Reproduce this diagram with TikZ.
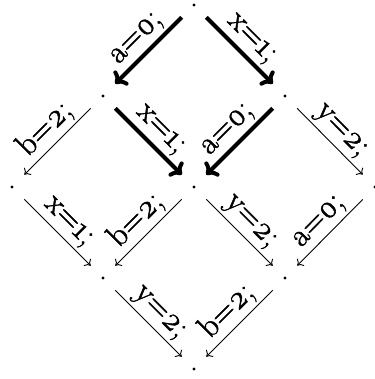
\documentclass[tikz,border=0pt]{standalone}
\usepackage{fontspec}
\usetikzlibrary{arrows.meta}
\newfontfamily\lblfont{Latin Modern Roman}[FakeBold=1.6, Numbers=OldStyle]
\newcommand{\lbl}[2]{#1=#2;}
\begin{document}
\begin{tikzpicture}[x=0.5pt, y=-0.5pt,
  state/.style={circle, minimum size=17pt, inner sep=0pt,
    path picture={\fill (path picture bounding box.center) circle (0.8pt);}},
  strong/.style={line width=2pt, -{Computer Modern Rightarrow[length=5pt, width=10pt]}},
  weak/.style={line width=0.45pt, -{Computer Modern Rightarrow[length=2.6pt, width=5pt]}},
  tag/.style={midway, sloped, above=0.5pt, font=\lblfont\fontsize{16}{18}\selectfont, inner sep=1pt}]
  \useasboundingbox (0,0) rectangle (374,379);
  % lattice of states
  \node[state] (t)  at (194,5)   {};
  \node[state] (l1) at (103,96)  {};
  \node[state] (r1) at (285,96)  {};
  \node[state] (l2) at (12,187)  {};
  \node[state] (m2) at (194,187) {};
  \node[state] (r2) at (375,187) {};
  \node[state] (l3) at (103,278) {};
  \node[state] (r3) at (285,278) {};
  \node[state] (b)  at (194,369) {};
  % transitions
  \draw[strong] (t)  -- (l1) node[tag] {\lbl{a}{0}};
  \draw[strong] (t)  -- (r1) node[tag] {\lbl{x}{1}};
  \draw[weak]   (l1) -- (l2) node[tag] {\lbl{b}{2}};
  \draw[strong] (l1) -- (m2) node[tag] {\lbl{x}{1}};
  \draw[strong] (r1) -- (m2) node[tag] {\lbl{a}{0}};
  \draw[weak]   (r1) -- (r2) node[tag] {\lbl{y}{2}};
  \draw[weak]   (l2) -- (l3) node[tag] {\lbl{x}{1}};
  \draw[weak]   (m2) -- (l3) node[tag] {\lbl{b}{2}};
  \draw[weak]   (m2) -- (r3) node[tag] {\lbl{y}{2}};
  \draw[weak]   (r2) -- (r3) node[tag] {\lbl{a}{0}};
  \draw[weak]   (l3) -- (b)  node[tag] {\lbl{y}{2}};
  \draw[weak]   (r3) -- (b)  node[tag] {\lbl{b}{2}};
\end{tikzpicture}
\end{document}
